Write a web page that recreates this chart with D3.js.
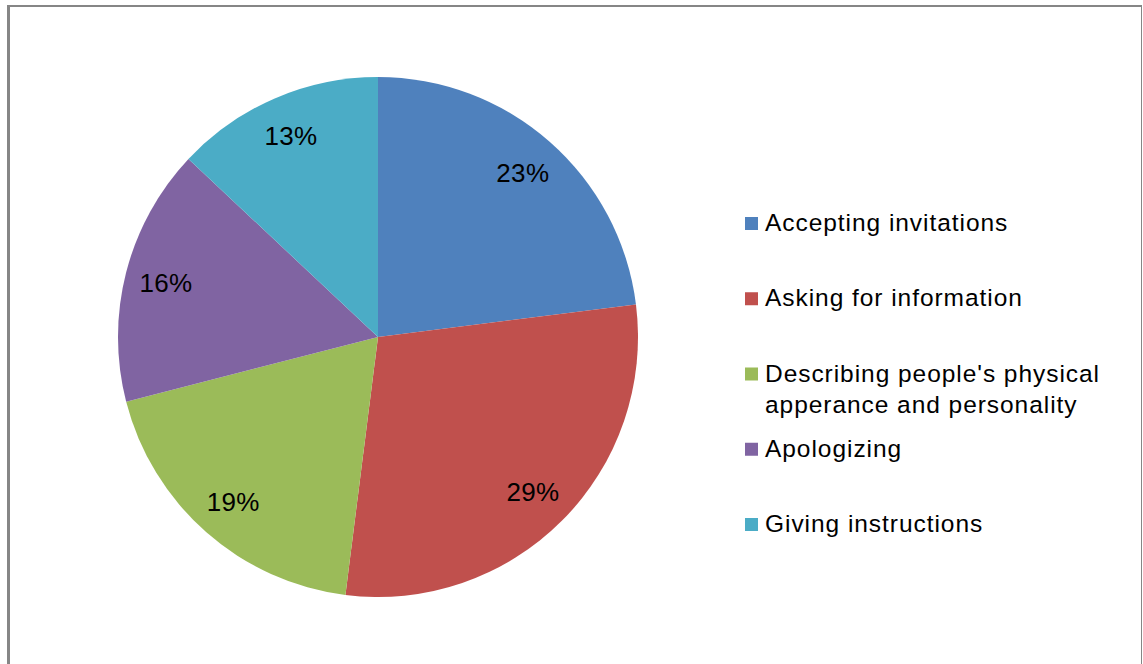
<!DOCTYPE html>
<html>
<head>
<meta charset="utf-8">
<script src="https://cdn.jsdelivr.net/npm/d3@7"></script>
<style>
  html, body { margin: 0; padding: 0; background: #fff; }
  svg { display: block; }
  text { font-family: "Liberation Sans", Arial, sans-serif; fill: #000; }
</style>
</head>
<body>
<svg id="chart" width="1143" height="664"></svg>
<script>
// Share of classroom functions (percent)
const categories = [
  "Accepting invitations",
  "Asking for information",
  "Describing people's physical apperance and personality",
  "Apologizing",
  "Giving instructions"
];
const values = [23, 29, 19, 16, 13];
const colors = ["#4F81BD", "#C0504D", "#9BBB59", "#8064A2", "#4BACC6"];
// legend text, broken into display lines
const legendLines = [
  ["Accepting invitations"],
  ["Asking for information"],
  ["Describing people's physical", "apperance and personality"],
  ["Apologizing"],
  ["Giving instructions"]
];

const W = 1143, H = 664;
const svg = d3.select("#chart");

// chart frame
const frame = svg.append("g").attr("stroke", "#868686").attr("fill", "none");
frame.append("line").attr("x1", 8.5).attr("x2", 8.5).attr("y1", 5).attr("y2", H).attr("stroke-width", 3);
frame.append("line").attr("x1", 7).attr("x2", 1142).attr("y1", 6).attr("y2", 6).attr("stroke-width", 2);
frame.append("line").attr("x1", 1141.5).attr("x2", 1141.5).attr("y1", 5).attr("y2", H).attr("stroke-width", 1);

// pie
const cx = 378, cy = 337, R = 260, labelR = 219;
const data = categories.map((c, i) => ({ name: c, value: values[i], color: colors[i] }));
const pie = d3.pie().value(d => d.value).sort(null);
const arcs = pie(data);
const arc = d3.arc().innerRadius(0).outerRadius(R);
const labelArc = d3.arc().innerRadius(labelR).outerRadius(labelR);

const g = svg.append("g").attr("transform", `translate(${cx},${cy})`);
g.selectAll("path.slice")
  .data(arcs)
  .join("path")
  .attr("class", "slice")
  .attr("d", arc)
  .attr("fill", d => d.data.color);

g.selectAll("text.pct")
  .data(arcs)
  .join("text")
  .attr("class", "pct")
  .attr("transform", d => `translate(${labelArc.centroid(d)})`)
  .attr("text-anchor", "middle")
  .attr("dy", "0.36em")
  .attr("font-size", 26)
  .attr("letter-spacing", 0.3)
  .text(d => d3.format(".0f")(d.data.value) + "%");

// legend
const legendY = d3.scalePoint().domain(d3.range(categories.length)).range([231, 532]);
const leg = svg.append("g");
const item = leg.selectAll("g.item")
  .data(data)
  .join("g")
  .attr("class", "item")
  .attr("transform", (d, i) => `translate(0,${legendY(i)})`);

item.append("rect")
  .attr("x", 745).attr("y", -14)
  .attr("width", 13).attr("height", 13)
  .attr("fill", d => d.color);

item.append("text")
  .attr("x", 765)
  .attr("font-size", 24.5)
  .attr("letter-spacing", 0.95)
  .selectAll("tspan")
  .data((d, i) => legendLines[i])
  .join("tspan")
  .attr("x", 765)
  .attr("dy", (l, j) => j === 0 ? 0 : 31)
  .text(l => l);
</script>
</body>
</html>
